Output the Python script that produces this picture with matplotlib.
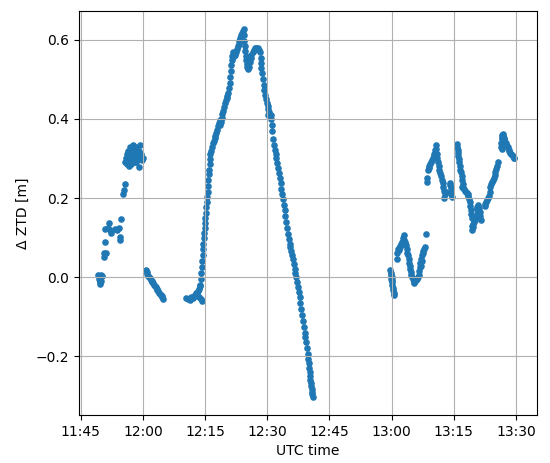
import pandas as pd
import matplotlib
matplotlib.use("Agg")
import matplotlib.pyplot as plt
from matplotlib.dates import DateFormatter, MinuteLocator

# times are minutes after 11:45 UTC, values are delta ZTD in metres
base = pd.Timestamp("2021-01-01 11:45")

t_a = [4.3, 4.4, 4.5, 4.6, 4.7, 4.7, 4.8, 5.0, 5.2, 5.6, 5.75, 5.85, 6.1, 5.85, 6.5, 6.9,
       7.2, 7.3, 8.3, 8.8, 9.3, 9.5, 9.6, 9.7, 10.3, 10.4, 10.7]
v_a = [0.005, -0.005, 0.004, -0.012, -0.018, 0.0, -0.01, 0.005, 0.004, 0.05, 0.06, 0.09,
       0.062, 0.121, 0.125, 0.137, 0.12, 0.111, 0.121, 0.118, 0.123, 0.102, 0.095, 0.148,
       0.211, 0.221, 0.236]

t_b = [10.8, 11.0, 11.1, 11.3, 11.4, 11.5, 11.6, 11.8, 11.9, 12.0, 12.1, 12.3, 12.4, 12.5,
       12.6, 12.8, 12.9, 13.0, 13.2, 13.3, 13.5, 13.6, 13.8, 14.0, 14.1, 14.3, 14.5, 14.7,
       15.0, 11.7, 12.2, 12.7, 13.4]
v_b = [0.29, 0.30, 0.285, 0.31, 0.295, 0.32, 0.30, 0.29, 0.315, 0.33, 0.30, 0.32, 0.295,
       0.31, 0.335, 0.30, 0.32, 0.29, 0.31, 0.33, 0.315, 0.295, 0.305, 0.32, 0.278, 0.335,
       0.31, 0.295, 0.30, 0.28, 0.285, 0.325, 0.29]

t_c = [15.7, 15.9, 16.1, 16.3, 16.5, 16.7, 16.9, 17.1, 17.3, 17.5, 17.7, 17.9, 18.1, 18.3,
       18.5, 18.7, 18.9, 19.1, 19.3, 19.5, 19.7, 19.9]
v_c = [0.018, 0.013, 0.008, 0.004, 0.0, -0.003, -0.006, -0.009, -0.013, -0.016, -0.02,
       -0.023, -0.026, -0.029, -0.033, -0.036, -0.039, -0.042, -0.045, -0.048, -0.051, -0.054]

t_d = [25.5, 25.8, 26.1, 26.4, 26.7, 27.0, 27.3, 27.6, 27.9, 28.1, 28.3, 28.5, 28.6, 28.8,
       29.0, 29.2]
v_d = [-0.052, -0.056, -0.055, -0.058, -0.05, -0.053, -0.047, -0.045, -0.04, -0.046,
       -0.035, -0.03, -0.05, -0.022, -0.055, -0.06]

t_e = [28.9, 29.0, 29.1, 29.2, 29.3, 29.4, 29.5, 29.6, 29.7, 29.8, 29.9, 30.0, 30.1, 30.2,
       30.3, 30.4, 30.5, 30.6, 30.7, 30.8, 30.9, 31.0, 31.1, 31.2, 31.3, 31.5, 31.7, 31.9,
       32.1, 32.3, 32.5, 32.7, 32.9, 33.1, 33.3, 33.5, 33.6, 33.8, 34.0, 34.2, 34.4, 34.6,
       34.8, 35.0, 35.2, 35.4, 35.6, 35.8, 36.0, 36.1, 36.2, 36.3, 36.4, 36.5, 36.7, 36.9,
       37.1, 37.3, 37.5, 37.7, 37.9, 38.1, 38.3, 38.5, 38.7, 38.9, 39.1, 39.3, 39.4, 39.5,
       39.6, 39.7, 39.8, 39.9, 40.0, 40.2, 40.4, 40.6, 40.8, 41.0, 41.2, 41.5, 41.8, 42.1,
       42.4, 42.7, 43.0, 43.2, 43.4, 43.5, 43.6, 43.7, 43.9, 44.1, 44.3, 44.5, 44.7, 44.9,
       45.1, 45.3, 45.5, 45.2, 45.6, 45.8, 46.0, 46.1, 46.2, 46.4, 46.6, 46.8, 47.0, 47.2,
       47.4, 47.6, 47.8, 48.0, 48.2, 48.4, 48.6, 48.8, 49.0, 49.2, 49.4, 49.6, 49.8, 50.0,
       50.2, 50.4, 50.6, 50.8, 51.0, 51.2, 51.4, 51.6, 51.8, 52.0, 52.2, 52.4, 52.6, 52.8,
       53.0, 53.2, 53.4, 53.6, 53.8, 54.0, 54.2, 54.4, 54.6, 54.8, 54.9, 55.0, 55.1, 55.2,
       55.3, 55.4, 55.5, 55.6, 55.7, 55.8, 55.9, 56.0]
v_e = [-0.02, -0.005, 0.01, 0.025, 0.04, 0.055, 0.07, 0.085, 0.1, 0.112, 0.125, 0.138,
       0.15, 0.163, 0.177, 0.19, 0.203, 0.215, 0.23, 0.245, 0.26, 0.272, 0.285, 0.298, 0.31,
       0.32, 0.33, 0.338, 0.345, 0.352, 0.358, 0.364, 0.372, 0.382, 0.39, 0.385, 0.398,
       0.392, 0.403, 0.412, 0.42, 0.43, 0.44, 0.448, 0.452, 0.458, 0.465, 0.478, 0.49, 0.505,
       0.52, 0.535, 0.548, 0.558, 0.568, 0.562, 0.558, 0.562, 0.57, 0.577, 0.583, 0.59,
       0.597, 0.605, 0.612, 0.618, 0.622, 0.626, 0.612, 0.598, 0.585, 0.572, 0.56, 0.548,
       0.538, 0.53, 0.525, 0.532, 0.543, 0.553, 0.562, 0.57, 0.575, 0.578, 0.579, 0.578,
       0.575, 0.568, 0.555, 0.54, 0.528, 0.515, 0.5, 0.486, 0.472, 0.46, 0.45, 0.44, 0.432,
       0.425, 0.418, 0.41, 0.405, 0.41, 0.4, 0.385, 0.37, 0.35, 0.335, 0.322, 0.31, 0.3,
       0.288, 0.275, 0.262, 0.25, 0.237, 0.224, 0.21, 0.197, 0.183, 0.17, 0.155, 0.14, 0.125,
       0.11, 0.097, 0.085, 0.075, 0.065, 0.055, 0.045, 0.032, 0.02, 0.01, 0.0, -0.012, -0.025,
       -0.037, -0.05, -0.065, -0.08, -0.095, -0.11, -0.125, -0.14, -0.152, -0.165, -0.18,
       -0.195, -0.207, -0.218, -0.229, -0.24, -0.25, -0.26, -0.268, -0.276, -0.283, -0.29,
       -0.296, -0.302]

t_f = [74.7, 74.8, 74.8, 74.9, 75.0, 75.0, 75.1, 75.2, 75.3, 75.4, 75.5, 75.6,
       76.2, 76.3, 76.5, 76.7, 76.9, 77.1, 77.3, 77.5, 77.7, 77.9, 78.0, 78.2, 78.4, 78.6,
       78.8, 79.0, 79.2, 79.3, 79.4, 79.5, 79.6, 79.7, 79.8]
v_f = [0.018, 0.005, -0.005, 0.01, -0.012, 0.0, -0.02, -0.008, -0.027, -0.033, -0.04,
       -0.045, 0.045, 0.06, 0.072, 0.068, 0.078, 0.075, 0.085, 0.09, 0.1, 0.106, 0.095,
       0.088, 0.08, 0.072, 0.062, 0.056, 0.047, 0.035, 0.027, 0.02, 0.012, 0.005, 0.0]

t_g = [80.1, 80.3, 80.5, 80.7, 80.9, 81.1, 81.3, 81.5, 81.7, 81.8, 81.9, 82.0, 82.1, 82.2,
       82.4, 82.5, 82.6, 82.8, 83.0, 83.3]
v_g = [-0.005, -0.012, -0.015, -0.01, -0.008, -0.005, 0.0, 0.005, 0.015, 0.025, 0.035,
       0.028, 0.045, 0.04, 0.055, 0.06, 0.065, 0.072, 0.077, 0.11]

t_h = [83.5, 83.6, 83.7, 83.9, 84.1, 84.3, 84.5, 84.7, 84.9, 85.1, 85.3, 85.5, 85.7, 85.8,
       85.9, 86.0, 86.1, 86.3, 86.5, 86.7, 86.9, 87.1, 87.3, 87.5, 87.6, 87.7, 87.9, 88.1,
       89.0, 89.1, 89.2, 89.3, 89.4, 89.5]
v_h = [0.25, 0.24, 0.27, 0.275, 0.28, 0.285, 0.29, 0.295, 0.3, 0.305, 0.312, 0.322, 0.333,
       0.325, 0.31, 0.3, 0.29, 0.28, 0.272, 0.262, 0.255, 0.245, 0.238, 0.228, 0.218, 0.2,
       0.21, 0.215, 0.238, 0.232, 0.225, 0.218, 0.21, 0.202]

t_i = [90.8, 90.85, 90.9, 91.0, 91.1, 91.2, 91.3, 91.45, 91.6, 91.75, 91.9, 92.0, 92.1,
       91.9, 92.3, 92.5, 92.7, 92.9, 93.1, 93.3, 93.5, 93.7, 93.9, 94.0, 94.1, 94.2, 94.3,
       94.3, 94.4, 94.5, 94.7, 94.9, 95.1, 95.3, 95.5, 95.6, 95.7, 95.9, 96.1, 96.3, 96.4,
       96.5]
v_i = [0.337, 0.33, 0.322, 0.315, 0.305, 0.298, 0.29, 0.282, 0.272, 0.265, 0.255, 0.245,
       0.235, 0.228, 0.225, 0.222, 0.218, 0.215, 0.212, 0.21, 0.205, 0.198, 0.19, 0.18, 0.17,
       0.16, 0.15, 0.13, 0.12, 0.128, 0.135, 0.14, 0.145, 0.152, 0.16, 0.172, 0.178, 0.182,
       0.175, 0.165, 0.155, 0.145]

t_j = [97.4, 97.6, 97.8, 98.0, 98.2, 98.4, 98.6, 98.8, 99.0, 99.2, 99.4, 99.6, 99.8, 100.0,
       100.2, 100.4, 100.6, 101.3, 101.4, 101.5, 101.6, 101.7, 101.8, 101.9, 102.0, 102.2,
       102.4, 102.6, 102.8, 103.0, 103.2, 103.4, 103.6, 103.8, 104.0, 104.2, 104.4, 104.6,
       101.5, 102.0]
v_j = [0.18, 0.185, 0.19, 0.195, 0.2, 0.205, 0.215, 0.228, 0.235, 0.24, 0.245, 0.25, 0.258,
       0.265, 0.274, 0.282, 0.29, 0.33, 0.34, 0.348, 0.355, 0.36, 0.362, 0.356, 0.352, 0.348,
       0.342, 0.338, 0.332, 0.328, 0.322, 0.318, 0.314, 0.31, 0.308, 0.305, 0.302, 0.3,
       0.325, 0.335]

minutes = t_a + t_b + t_c + t_d + t_e + t_f + t_g + t_h + t_i + t_j
dztd = v_a + v_b + v_c + v_d + v_e + v_f + v_g + v_h + v_i + v_j
times = base + pd.to_timedelta(minutes, unit="min")

fig = plt.figure(figsize=(5.5, 4.63), dpi=100)
ax = fig.add_subplot(111)
fig.subplots_adjust(left=0.1436, right=0.976, bottom=0.1037, top=0.976)

ax.scatter(times, dztd, s=14, color="C0")
ax.set_xlim(base + pd.Timedelta(minutes=-0.4), base + pd.Timedelta(minutes=110.0))
ax.xaxis.set_major_locator(MinuteLocator(byminute=[0, 15, 30, 45]))
ax.xaxis.set_major_formatter(DateFormatter("%H:%M"))
ax.grid()
ax.set_xlabel("UTC time")
ax.set_ylabel("\u0394 ZTD [m]")

fig.savefig("out.png")
